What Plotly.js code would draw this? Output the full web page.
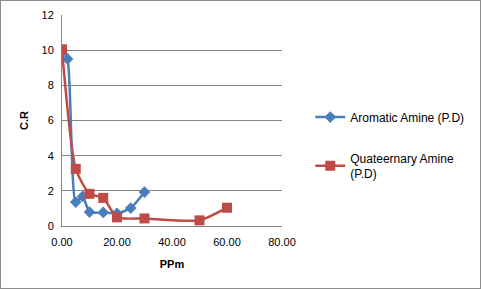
<!DOCTYPE html>
<html><head><meta charset="utf-8">
<script src="https://cdn.plot.ly/plotly-3.0.1.min.js"></script>
<style>html,body{margin:0;padding:0;background:#fff}#wrap{position:relative;width:481px;height:289px}#frame{position:absolute;left:0;top:0;width:479px;height:287px;border:1px solid #8c8c8c;pointer-events:none}</style>
</head><body>
<div id="wrap"><div id="chart" style="width:481px;height:289px"></div><div id="frame"></div></div>
<script>
const aromaticX = [0, 2, 5, 7.5, 10, 15, 20, 25, 30];
const aromaticY = [10, 9.5, 1.36, 1.68, 0.79, 0.77, 0.72, 1.02, 1.93];
const quatX = [0, 5, 10, 15, 20, 30, 50, 60];
const quatY = [10.05, 3.25, 1.83, 1.6, 0.49, 0.43, 0.32, 1.04];
const seriesNames = ["Aromatic Amine (P.D)", "Quateernary Amine<br>(P.D)"];
const xTicks = [0, 20, 40, 60, 80];
const xTickText = ["0.00", "20.00", "40.00", "60.00", "80.00"];
const yTicks = [0, 2, 4, 6, 8, 10, 12];

const font = {family: "Liberation Sans, Arial, sans-serif", size: 11, color: "#000"};
const legFont = {family: "Liberation Sans, Arial, sans-serif", size: 12, color: "#000"};
const hidden = "rgba(0,0,0,0)";
const data = [
  {x: aromaticX, y: aromaticY, name: seriesNames[0], legendgroup: "a", type: "scatter", mode: "lines+markers",
   line: {color: "#4A7EBB", width: 2.5, shape: "spline", smoothing: 0.6},
   marker: {symbol: "diamond", size: 9, color: "#4A7EBB"}},
  {x: quatX, y: quatY, name: seriesNames[1], legendgroup: "b", type: "scatter", mode: "lines+markers",
   line: {color: "#BE4B48", width: 2.5, shape: "spline", smoothing: 0.6},
   marker: {symbol: "square", size: 10, color: "#BE4B48"}}
];
const layout = {
  width: 481, height: 289,
  margin: {l: 62, r: 199, t: 15, b: 63},
  paper_bgcolor: "#fff", plot_bgcolor: "#fff",
  font: font,
  showlegend: true,
  legend: {xref: "container", yref: "container", x: 0.645, y: 0.645, xanchor: "left", yanchor: "top",
           font: legFont, tracegroupgap: 22, itemwidth: 30},
  xaxis: {range: [0, 80], tickvals: xTicks, ticktext: xTickText, showgrid: false, zeroline: false,
          showline: true, linecolor: "#868686", linewidth: 1, ticks: "outside", ticklen: 6, tickcolor: hidden, tickfont: font,
          title: {text: "<b>PPm</b>", font: font, standoff: 13}},
  yaxis: {range: [0, 12], tickvals: yTicks, showgrid: true, gridcolor: "#868686", gridwidth: 1, zeroline: false,
          showline: true, linecolor: "#868686", linewidth: 1, ticks: "outside", ticklen: 5, tickcolor: hidden, tickfont: font,
          title: {text: "<b>C.R</b>", font: font, standoff: 10}}
};
Plotly.newPlot("chart", data, layout, {displayModeBar: false, staticPlot: true});
</script>
</body></html>
